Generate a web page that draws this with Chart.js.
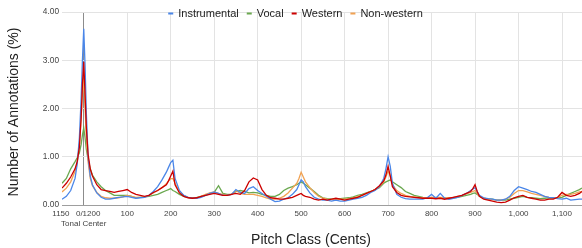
<!DOCTYPE html>
<html>
<head>
<meta charset="utf-8">
<script src="https://cdn.jsdelivr.net/npm/chart.js@4.4.1/dist/chart.umd.min.js"></script>
<style>
  html, body { margin: 0; padding: 0; background: #fff; }
  #wrap { position: relative; width: 582px; height: 248px; }
</style>
</head>
<body>
<div id="wrap"><canvas id="chart"></canvas></div>
<script>
/* Distribuição de anotações por classe de altura (cents) */

const seriesNames = ['Instrumental', 'Vocal', 'Western', 'Non-western'];

// posições em cents (-50 == 1150)
const cents = [
  -50, -40, -30, -20, -15, -10, -6, -3,
  0, 3, 6, 10, 15, 20,
  30, 40, 50, 60, 70, 80, 90, 100, 110, 120, 130, 140, 150, 160, 170, 180, 190,
  195, 200, 205, 210,
  220, 230, 240, 250, 260, 270, 280, 290, 300, 310, 320, 330, 340, 350, 360, 370, 380, 390, 400, 410, 420, 430, 440, 450, 460, 470, 480, 490,
  495, 500, 505, 510,
  520, 530, 540, 550, 560, 570, 580, 590, 600, 610, 620, 630, 640, 650, 660, 670, 680, 690,
  695, 700, 705, 710,
  720, 730, 740, 750, 760, 770, 780, 790, 800, 810, 820, 830, 840, 850, 860, 870, 880, 890,
  895, 900, 905, 910,
  920, 930, 940, 950, 960, 970, 980, 990, 1000, 1010, 1020, 1030, 1040, 1050, 1060, 1070, 1080, 1090, 1100, 1110, 1120, 1130, 1140,
  1146
];

const instrumental = [
  0.12, 0.18, 0.3, 0.55, 0.85, 1.4, 2.2, 3.0,
  3.65, 2.9, 1.9, 1.0, 0.6, 0.42,
  0.25, 0.16, 0.12, 0.12, 0.14, 0.16, 0.17, 0.18, 0.16, 0.14, 0.15, 0.16, 0.2, 0.28, 0.38, 0.52, 0.68,
  0.78, 0.88, 0.93, 0.55,
  0.3, 0.2, 0.16, 0.14, 0.14, 0.16, 0.2, 0.24, 0.27, 0.24, 0.2, 0.2, 0.22, 0.32, 0.26, 0.24, 0.34, 0.38, 0.3, 0.24, 0.18, 0.12, 0.07, 0.08, 0.12, 0.15, 0.22, 0.32,
  0.42, 0.52, 0.48, 0.38,
  0.25, 0.16, 0.12, 0.1, 0.1, 0.08, 0.1, 0.08, 0.08, 0.1, 0.12, 0.14, 0.16, 0.2, 0.26, 0.3, 0.38, 0.55,
  0.75, 1.0, 0.8, 0.45,
  0.22, 0.16, 0.13, 0.12, 0.12, 0.12, 0.12, 0.15, 0.22, 0.14, 0.24, 0.14, 0.12, 0.14, 0.16, 0.2, 0.24, 0.3,
  0.33, 0.36, 0.28, 0.2,
  0.15, 0.13, 0.12, 0.1, 0.1, 0.12, 0.18, 0.3, 0.38, 0.35, 0.32, 0.28, 0.26, 0.22, 0.18, 0.16, 0.15, 0.13, 0.12, 0.14, 0.1, 0.11, 0.12,
  0.12
];

const vocal = [
  0.45, 0.55, 0.75, 0.9, 0.98, 1.08, 1.25, 1.45,
  1.6, 1.4, 1.15, 0.95, 0.75, 0.62,
  0.48, 0.38, 0.3, 0.25, 0.2, 0.2, 0.2, 0.2, 0.18, 0.15, 0.16, 0.17, 0.18, 0.2, 0.22, 0.26, 0.3,
  0.32, 0.34, 0.3, 0.28,
  0.22, 0.18, 0.16, 0.15, 0.16, 0.18, 0.2, 0.24, 0.26, 0.4, 0.24, 0.22, 0.22, 0.28, 0.3, 0.28, 0.25, 0.26, 0.25, 0.22, 0.2, 0.18, 0.18, 0.22, 0.3, 0.35, 0.38, 0.42,
  0.45, 0.48, 0.45, 0.42,
  0.35, 0.28, 0.2, 0.15, 0.13, 0.12, 0.12, 0.13, 0.14, 0.15, 0.17, 0.2, 0.22, 0.25, 0.28, 0.32, 0.36, 0.45,
  0.48, 0.5, 0.52, 0.48,
  0.42, 0.36, 0.28, 0.24, 0.2, 0.18, 0.16, 0.15, 0.15, 0.14, 0.14, 0.14, 0.14, 0.15, 0.16, 0.18, 0.2, 0.22,
  0.24, 0.25, 0.22, 0.18,
  0.14, 0.12, 0.12, 0.1, 0.1, 0.1, 0.12, 0.14, 0.16, 0.18, 0.16, 0.15, 0.14, 0.13, 0.14, 0.15, 0.14, 0.15, 0.16, 0.2, 0.24, 0.28, 0.32,
  0.35
];

const western = [
  0.35, 0.45, 0.58, 0.75, 0.9, 1.2, 1.8, 2.5,
  2.97, 2.3, 1.6, 1.05, 0.75, 0.6,
  0.42, 0.32, 0.3, 0.28, 0.26, 0.28, 0.3, 0.32, 0.26, 0.22, 0.2, 0.18, 0.2, 0.26, 0.3, 0.36, 0.42,
  0.5, 0.6, 0.7, 0.42,
  0.25, 0.18, 0.15, 0.14, 0.15, 0.18, 0.2, 0.22, 0.24, 0.22, 0.2, 0.2, 0.22, 0.24, 0.22, 0.3, 0.48, 0.56, 0.52, 0.32, 0.2, 0.15, 0.14, 0.12, 0.12, 0.14, 0.16, 0.2,
  0.22, 0.24, 0.2, 0.18,
  0.16, 0.12, 0.1, 0.12, 0.1, 0.12, 0.14, 0.12, 0.1, 0.12, 0.14, 0.16, 0.2, 0.24, 0.28, 0.32, 0.4, 0.5,
  0.62, 0.8, 0.6, 0.38,
  0.26, 0.2, 0.18, 0.17, 0.16, 0.15, 0.14, 0.14, 0.14, 0.13, 0.14, 0.12, 0.14, 0.16, 0.18, 0.2, 0.24, 0.28,
  0.34, 0.42, 0.28, 0.18,
  0.12, 0.1, 0.08, 0.06, 0.05, 0.06, 0.1, 0.15, 0.18, 0.2, 0.16, 0.14, 0.12, 0.1, 0.1, 0.12, 0.12, 0.16, 0.26, 0.2, 0.18, 0.2, 0.24,
  0.28
];

const nonWestern = [
  0.27, 0.35, 0.48, 0.7, 0.88, 1.25, 1.8, 2.3,
  2.6, 2.0, 1.4, 0.9, 0.55, 0.4,
  0.26, 0.18, 0.15, 0.14, 0.14, 0.15, 0.17, 0.2, 0.18, 0.16, 0.16, 0.17, 0.2, 0.25, 0.3, 0.36, 0.44,
  0.5, 0.54, 0.55, 0.45,
  0.28, 0.2, 0.16, 0.14, 0.15, 0.18, 0.22, 0.25, 0.27, 0.24, 0.22, 0.2, 0.22, 0.3, 0.24, 0.22, 0.22, 0.22, 0.2, 0.18, 0.15, 0.12, 0.12, 0.14, 0.18, 0.25, 0.35, 0.45,
  0.55, 0.68, 0.58, 0.48,
  0.36, 0.26, 0.18, 0.14, 0.12, 0.11, 0.11, 0.12, 0.12, 0.13, 0.15, 0.18, 0.2, 0.24, 0.28, 0.32, 0.38, 0.48,
  0.58, 0.7, 0.6, 0.42,
  0.3, 0.24, 0.2, 0.18, 0.17, 0.16, 0.15, 0.15, 0.16, 0.16, 0.16, 0.15, 0.15, 0.16, 0.18, 0.2, 0.23, 0.26,
  0.28, 0.3, 0.24, 0.18,
  0.14, 0.12, 0.11, 0.1, 0.1, 0.12, 0.16, 0.24, 0.3, 0.3, 0.27, 0.24, 0.22, 0.2, 0.18, 0.16, 0.15, 0.16, 0.2, 0.22, 0.22, 0.24, 0.27,
  0.28
];

const xTickValues = [-50, 0, 100, 200, 300, 400, 500, 600, 700, 800, 900, 1000, 1100];
const yTickValues = [0, 1, 2, 3, 4];
const xTitle = 'Pitch Class (Cents)';
const yTitle = 'Number of Annotations (%)';

const colors = {
  instrumental: '#4a86e8',
  vocal:        '#6aa84f',
  western:      '#cc0000',
  nonWestern:   '#f1a253',
  grid:         '#e3e3e3',
  center:       '#8c8c8c',
  baseline:     '#9e9e9e',
  tick:         '#444444',
  title:        '#222222'
};

const FONT = "Arial, 'Liberation Sans', sans-serif";

function toPoints(values) {
  return values.map((v, i) => ({ x: cents[i], y: v }));
}

// os espaços afastam "1150" de "0/1200", como no original
function formatCents(v) {
  if (v === -50) return '1150 ';
  if (v === 0) return ['    0/1200', 'Tonal Center'];
  return v.toLocaleString('en-US');
}

// legenda e títulos desenhados à mão (sobrepõem a área do gráfico como no original)
const overlayText = {
  id: 'overlayText',
  afterDraw(chart) {
    const ctx = chart.ctx;
    const items = chart.data.datasets.map(ds => ({ label: ds.label, color: ds.borderColor }))
      .sort((a, b) => seriesNames.indexOf(a.label) - seriesNames.indexOf(b.label));
    ctx.save();
    ctx.font = `11px ${FONT}`;
    const markW = 5, gapIn = 5, gapOut = 8;
    let total = 0;
    items.forEach((it, i) => {
      total += markW + gapIn + ctx.measureText(it.label).width + (i < items.length - 1 ? gapOut : 0);
    });
    let x = 295.5 - total / 2;
    const y = 13.5;
    ctx.textBaseline = 'middle';
    items.forEach(it => {
      ctx.fillStyle = it.color;
      ctx.fillRect(x, y - 1, markW, 2);
      x += markW + gapIn;
      ctx.fillStyle = colors.title;
      ctx.fillText(it.label, x, y);
      x += ctx.measureText(it.label).width + gapOut;
    });

    // títulos dos eixos
    ctx.font = `14px ${FONT}`;
    ctx.fillStyle = colors.title;
    ctx.textAlign = 'center';
    ctx.fillText(xTitle, 311, 240);
    ctx.translate(14.5, 112);
    ctx.rotate(-Math.PI / 2);
    ctx.fillText(yTitle, 0, 0);
    ctx.restore();
  }
};

const lineDefaults = {
  borderWidth: 1.3,
  pointRadius: 0,
  tension: 0,
  fill: false
};

new Chart(document.getElementById('chart'), {
  type: 'line',
  data: {
    datasets: [
      { ...lineDefaults, label: seriesNames[2], data: toPoints(western),      borderColor: colors.western,      order: 0 },
      { ...lineDefaults, label: seriesNames[0], data: toPoints(instrumental), borderColor: colors.instrumental, order: 1 },
      { ...lineDefaults, label: seriesNames[3], data: toPoints(nonWestern),   borderColor: colors.nonWestern,   order: 2 },
      { ...lineDefaults, label: seriesNames[1], data: toPoints(vocal),        borderColor: colors.vocal,        order: 3 }
    ]
  },
  options: {
    responsive: true,
    maintainAspectRatio: false,
    devicePixelRatio: 1,
    animation: false,
    layout: { padding: { top: 12, right: 0, bottom: 0, left: 0 } },
    plugins: {
      legend: { display: false },
      tooltip: { enabled: false }
    },
    scales: {
      x: {
        type: 'linear',
        min: -50,
        max: 1146,
        afterBuildTicks: scale => { scale.ticks = xTickValues.map(v => ({ value: v })); },
        afterFit: scale => { scale.height = 43; },
        border: { color: colors.baseline },
        grid: {
          drawTicks: false,
          color: ctx => {
            const v = ctx.tick && ctx.tick.value;
            if (v === -50) return 'rgba(0,0,0,0)';
            if (v === 0) return colors.center;
            return colors.grid;
          }
        },
        ticks: {
          autoSkip: false,
          maxRotation: 0,
          padding: 4,
          color: colors.tick,
          font: { family: FONT, size: 8, lineHeight: 1.2 },
          callback: v => formatCents(v)
        }
      },
      y: {
        min: 0,
        max: 4,
        afterBuildTicks: scale => { scale.ticks = yTickValues.map(v => ({ value: v })); },
        afterFit: scale => { scale.width = 62; },
        border: { display: false },
        grid: { drawTicks: false, color: colors.grid },
        ticks: {
          padding: 3,
          color: colors.tick,
          font: { family: FONT, size: 8.3 },
          callback: v => v.toFixed(2)
        }
      }
    }
  },
  plugins: [overlayText]
});
</script>
</body>
</html>
